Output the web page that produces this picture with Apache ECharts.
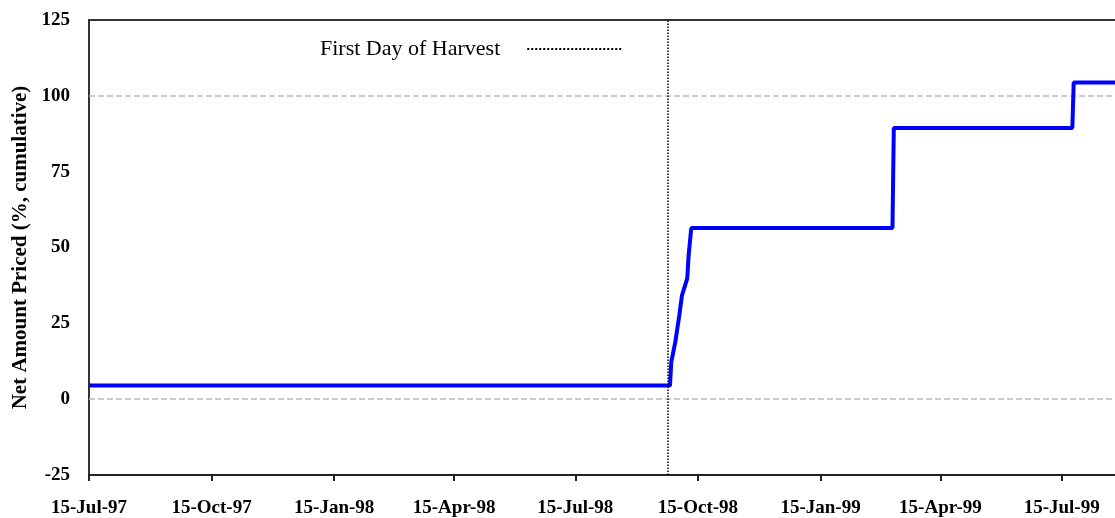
<!DOCTYPE html>
<html>
<head>
<meta charset="utf-8">
<script src="https://cdn.jsdelivr.net/npm/echarts@6/dist/echarts.min.js"></script>
<style>
  html, body { margin: 0; padding: 0; background: #fff; }
  #chart { width: 1115px; height: 518px; }
</style>
</head>
<body>
<div id="chart"></div>
<script>
// cumulative net amount priced (%)
const pricedDates = [
  '1997-07-15', '1998-09-24', '1998-09-25', '1998-09-28', '1998-10-01',
  '1998-10-03', '1998-10-07', '1998-10-08', '1998-10-10', '1999-03-10',
  '1999-03-11', '1999-07-23', '1999-07-24', '1999-08-24'
]
const pricedValues = [
  4.5, 4.5, 12.3, 18.8, 27.6,
  34.2, 39.8, 47.4, 56.4, 56.4,
  89.4, 89.4, 104.4, 104.4
]
const harvestDate = '1998-09-22'
const tickDates = [
  '1997-07-15', '1997-10-15', '1998-01-15', '1998-04-15', '1998-07-15',
  '1998-10-15', '1999-01-15', '1999-04-15', '1999-07-15'
]
const gridValues = [0, 100]
const monthNames = ['Jan', 'Feb', 'Mar', 'Apr', 'May', 'Jun', 'Jul', 'Aug', 'Sep', 'Oct', 'Nov', 'Dec']

// dates go on a plain value axis as timestamps
const toTime = (s) => +echarts.time.parse(s)
const fmtDate = (v) => {
  const d = new Date(v)
  return d.getDate() + '-' + monthNames[d.getMonth()] + '-' + String(d.getFullYear()).slice(2)
}

const serif = '"Liberation Serif", "Times New Roman", serif'
const xMin = toTime('1997-07-15')
const xMax = toTime('1999-08-24')
const chart = echarts.init(document.getElementById('chart'))

chart.setOption({
  animation: false,
  legend: {
    data: ['First Day of Harvest'],
    left: 315,
    top: 33,
    align: 'right',
    itemWidth: 95,
    itemHeight: 8,
    itemStyle: { opacity: 0 },
    formatter: (n) => n + '    ',
    textStyle: { fontFamily: serif, fontSize: 22, color: '#000' }
  },
  grid: {
    left: 89,
    top: 20,
    right: 0,
    bottom: 42
  },
  xAxis: [
    {
      type: 'value',
      min: xMin,
      max: xMax,
      splitLine: { show: false },
      axisLine: { onZero: false, lineStyle: { color: '#222', width: 2 } },
      axisTick: {
        show: true,
        length: 6,
        customValues: tickDates.map(toTime),
        lineStyle: { color: '#222', width: 2 }
      },
      axisLabel: {
        customValues: tickDates.map(toTime),
        formatter: fmtDate,
        margin: 24,
        fontFamily: serif,
        fontWeight: 'bold',
        fontSize: 19,
        color: '#000'
      }
    },
    {
      // top frame of the plot area
      type: 'value',
      position: 'top',
      min: xMin,
      max: xMax,
      splitLine: { show: false },
      axisLine: { onZero: false, lineStyle: { color: '#333', width: 2 } },
      axisTick: { show: false },
      axisLabel: { show: false }
    }
  ],
  yAxis: {
    type: 'value',
    min: -25,
    max: 125,
    interval: 25,
    name: 'Net Amount Priced (%, cumulative)',
    nameLocation: 'middle',
    nameGap: 51,
    nameTextStyle: { fontFamily: serif, fontWeight: 'bold', fontSize: 21, color: '#000' },
    splitLine: { show: false },
    axisLine: { show: true, lineStyle: { color: '#333', width: 2 } },
    axisTick: { show: false },
    axisLabel: {
      margin: 19,
      fontFamily: serif,
      fontWeight: 'bold',
      fontSize: 19,
      color: '#000'
    }
  },
  series: [
    {
      name: 'Net Amount Priced',
      type: 'line',
      symbol: 'none',
      z: 3,
      data: pricedDates.map((d, i) => [toTime(d), pricedValues[i]]),
      lineStyle: { color: '#0000ff', width: 4 },
      markLine: {
        silent: true,
        symbol: 'none',
        z: 1,
        label: { show: false },
        lineStyle: { color: '#bbb', type: 'dashed', width: 1.5 },
        data: gridValues.map((v) => ({ yAxis: v }))
      }
    },
    {
      name: 'First Day of Harvest',
      type: 'line',
      symbol: 'none',
      data: [],
      lineStyle: { color: '#000', type: 'dotted', width: 1.5 },
      itemStyle: { color: '#000' },
      markLine: {
        silent: true,
        symbol: 'none',
        label: { show: false },
        lineStyle: { color: '#000', type: 'dotted', width: 1.5 },
        data: [{ xAxis: toTime(harvestDate) }]
      }
    }
  ]
})
</script>
</body>
</html>
